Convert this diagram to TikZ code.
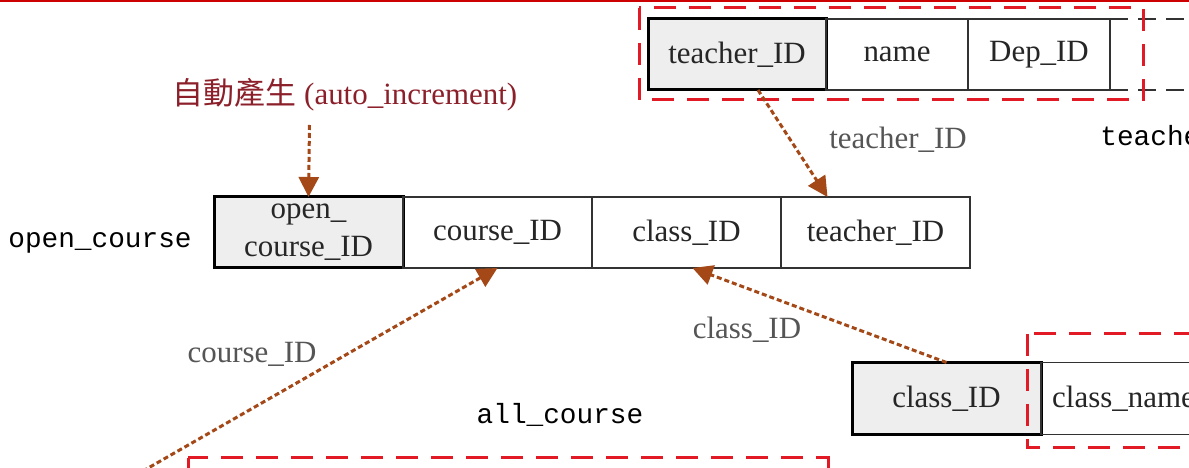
\documentclass[tikz,border=0pt]{standalone}
\usepackage{fontspec}
\setmainfont{Liberation Serif}
\setmonofont{Liberation Mono}
\newfontfamily\cjk{Noto Sans CJK TC}
\usepackage{tikz}
\usetikzlibrary{positioning,arrows.meta}

\definecolor{fkbrown}{RGB}{163,72,22}
\definecolor{autored}{RGB}{140,32,42}
\definecolor{boxred}{RGB}{226,26,38}
\definecolor{topred}{RGB}{204,0,0}
\definecolor{labelgray}{RGB}{85,85,85}
\definecolor{keygray}{RGB}{238,238,238}
\definecolor{cellline}{RGB}{50,50,50}

\begin{document}
\begin{tikzpicture}[
    font=\fontsize{8.8}{10.8}\selectfont,
    cell/.style={draw=cellline, line width=0.015cm, minimum width=1.89cm, minimum height=0.71cm,
        inner sep=0pt, outer sep=0pt, text=black!85},
    keycell/.style={cell, draw=black, line width=0.03cm, fill=keygray},
    fk/.style={fkbrown, line width=0.03cm, dash pattern=on 0.05cm off 0.03cm,
        -{Triangle[length=0.2cm,width=0.2cm]}},
    redbox/.style={boxred, line width=0.03cm, dash pattern=on 0.22cm off 0.13cm},
    fklabel/.style={text=labelgray},
    tablename/.style={font=\fontsize{7.9}{9}\ttfamily, anchor=base}]
    \useasboundingbox (0,0) rectangle (11.89,4.68);
    \clip (0,0) rectangle (11.89,4.68);
    \fill[white] (0,0) rectangle (11.89,4.68);
    \draw[topred, line width=0.025cm] (0,4.675) -- (11.89,4.675);

    \node[keycell, minimum width=1.78cm] (tid) at (7.37,4.135) {teacher\_ID};
    \node[cell, minimum width=1.42cm, right=0pt of tid] (tname) {name};
    \node[cell, minimum width=1.42cm, right=0pt of tname] (tdep) {Dep\_ID};
    \draw[cellline, line width=0.015cm, dash pattern=on 0.18cm off 0.10cm] (tdep.north east) -- ++(0.85,0);
    \draw[cellline, line width=0.015cm, dash pattern=on 0.18cm off 0.10cm] (tdep.south east) -- ++(0.85,0);
    \draw[redbox] (6.39,4.60) rectangle (11.43,3.68);
    \node[tablename, anchor=base west] (tteacher) at (10.88,3.22) {teacher};

    \node[text=autored] (auto) at (3.45,3.73) {{\cjk 自動產生} (auto\_increment)};
    \coordinate (autotop) at (3.095,3.43);

    \node[keycell, align=center] (oc1) at (3.085,2.355) {open\_\\course\_ID};
    \node[cell, right=0pt of oc1] (oc2) {course\_ID};
    \node[cell, right=0pt of oc2] (oc3) {class\_ID};
    \node[cell, right=0pt of oc3] (oc4) {teacher\_ID};
    \node[tablename] (tcourse) at (1.00,2.20) {open\_course};

    \node[keycell, minimum height=0.72cm] (cl1) at (9.465,0.695) {class\_ID};
    \node[cell, minimum height=0.72cm, minimum width=1.65cm, right=0pt of cl1] (cl2) {class\_name};
    \draw[redbox] (10.27,1.34) rectangle (12.6,0.20);

    \node[tablename] (tall) at (5.60,0.44) {all\_course};
    \draw[redbox] (1.88,0.10) rectangle (8.28,-0.6);
    \coordinate (coursefrom) at (1.22,-0.15);

    \draw[fk] (autotop) -- (oc1.north);
    \draw[fk] ([xshift=0.21cm]tid.south) -- ([xshift=-0.48cm]oc4.north);
    \node[fklabel] (lteacher) at (8.98,3.28) {teacher\_ID};
    \draw[fk] (cl1.north) -- ([xshift=0.06cm]oc3.south);
    \node[fklabel] (lclass) at (7.47,1.38) {class\_ID};
    \draw[fk] (coursefrom) -- (oc2.south);
    \node[fklabel] (lcourse) at (2.52,1.14) {course\_ID};
\end{tikzpicture}
\end{document}
